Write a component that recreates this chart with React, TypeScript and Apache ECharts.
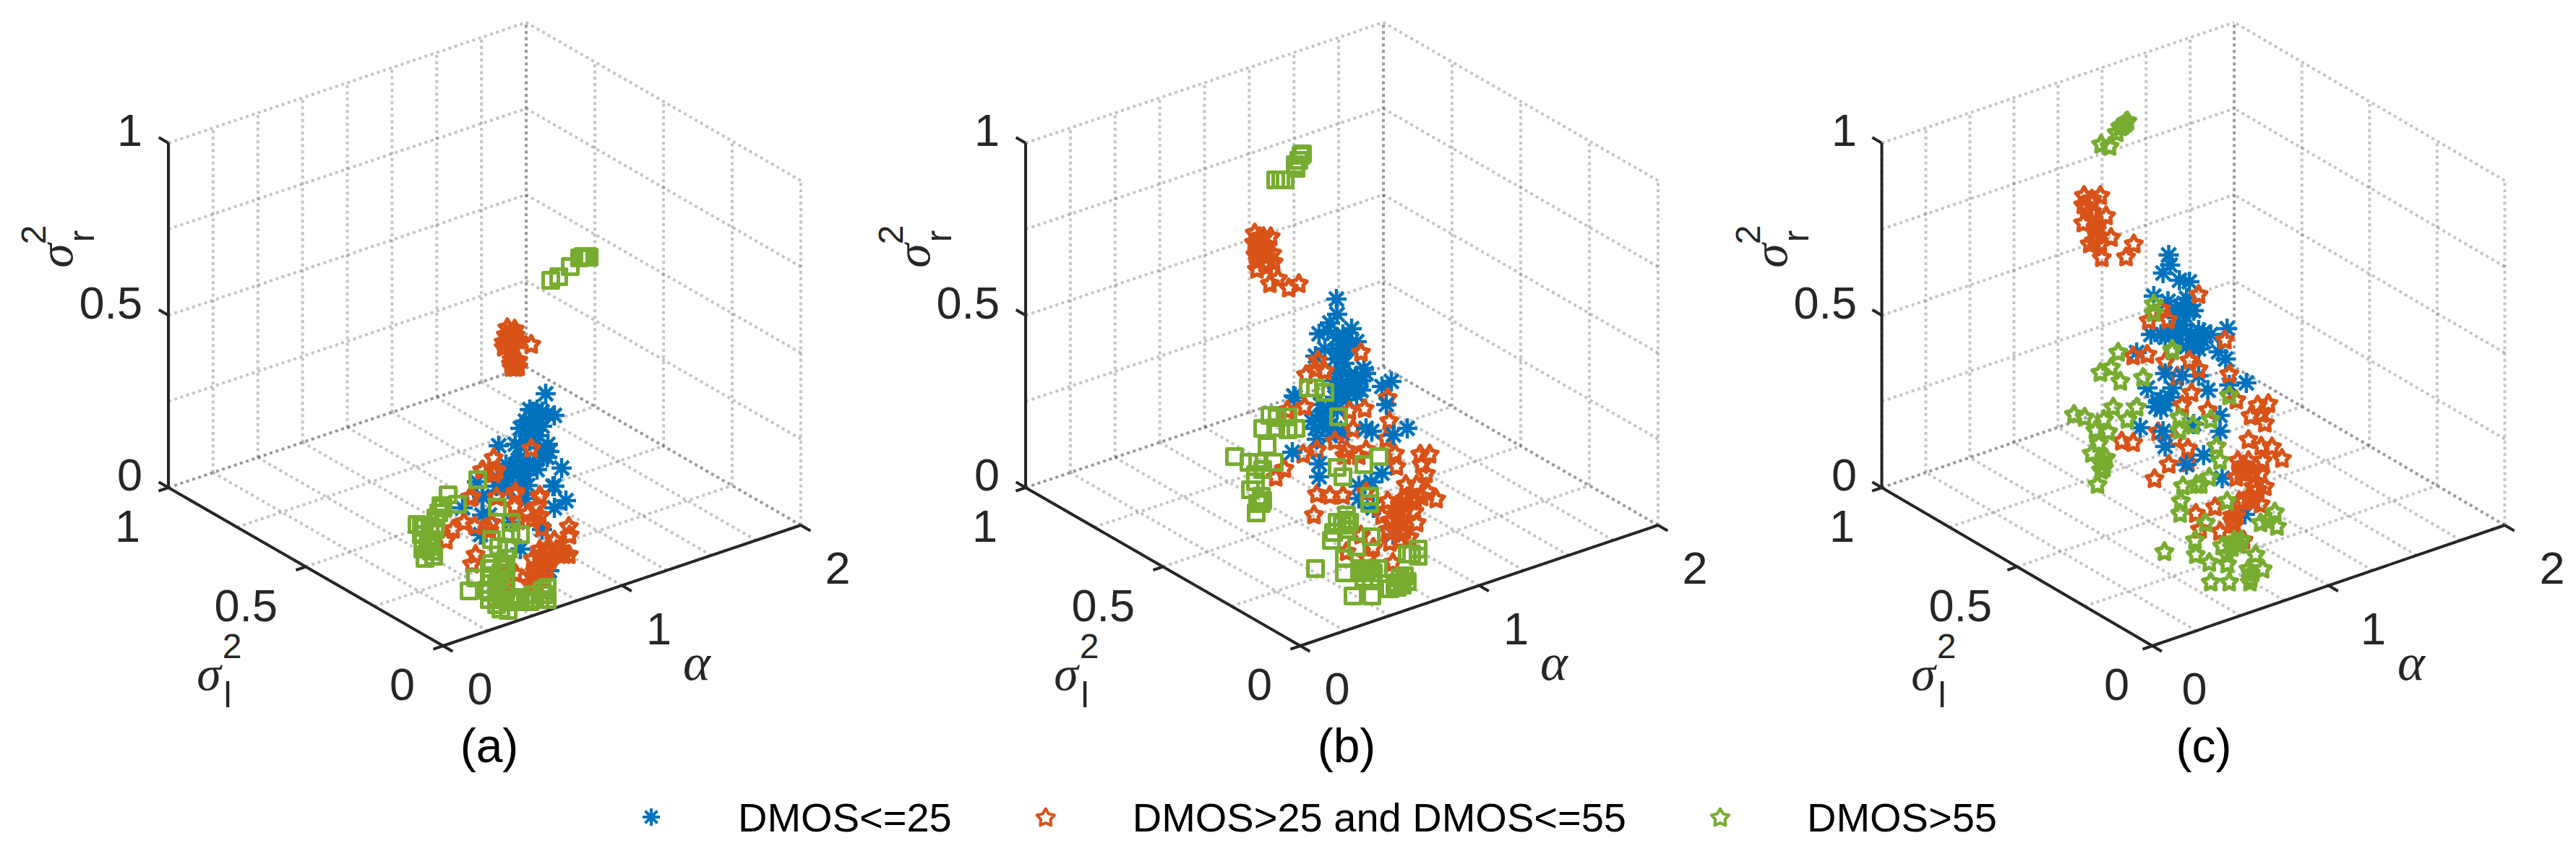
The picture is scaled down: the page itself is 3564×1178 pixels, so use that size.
import React, { useEffect, useRef } from "react";
import * as echarts from "echarts";

// View-plane readings of each point (horizontal, vertical) in the units of the hidden axes.
const aBlue = [[522,349],[534,319],[505,324],[494,311],[514,314],[487,301],[504,301],[517,304],[497,291],[512,291],[525,279],[457,277],[480,279],[527,269],[467,251],[484,247],[500,247],[507,251],[487,261],[477,237],[494,237],[544,246],[532,221],[550,201],[457,231],[467,227],[434,207],[427,227],[435,206],[434,181],[534,221],[534,191],[494,204],[517,161],[432,154],[444,181],[474,171],[487,134],[527,104],[407,191],[497,222],[500,327],[510,327],[494,301],[507,307],[500,311],[517,324],[524,321],[484,257],[474,241],[487,241],[500,254],[480,251],[467,241],[510,244],[517,261],[524,261],[514,274],[500,284],[487,277],[454,221],[470,217],[487,227]];
const aOrange = [[469,441],[479,439],[467,431],[480,431],[464,421],[474,424],[484,424],[464,414],[477,417],[502,418],[475,397],[484,396],[480,386],[475,386],[502,274],[450,261],[435,244],[450,241],[480,214],[514,209],[417,206],[450,239],[434,244],[454,244],[420,207],[480,211],[514,207],[510,194],[479,194],[454,207],[497,184],[514,181],[504,176],[409,172],[394,162],[384,147],[424,167],[447,171],[484,174],[444,161],[517,164],[554,166],[555,154],[534,147],[544,134],[554,127],[527,137],[514,124],[504,121],[530,124],[510,111],[524,107],[504,97],[517,97],[500,87],[425,127],[420,114],[470,104],[480,101],[454,94],[467,87],[510,84],[473,431],[467,421],[479,424],[474,414],[470,426],[480,394],[474,391],[484,387],[524,134],[537,134],[514,134],[517,117],[507,104],[524,117],[547,127],[510,91]];
const aGreen = [[529,506],[540,511],[556,525],[569,537],[574,539],[579,539],[582,538],[428,230],[455,192],[387,209],[377,194],[400,196],[374,184],[344,168],[354,166],[362,166],[369,161],[352,147],[360,146],[352,134],[364,131],[355,121],[367,124],[474,171],[487,154],[474,157],[447,147],[457,137],[470,134],[467,121],[447,114],[462,112],[444,97],[425,94],[457,94],[467,91],[416,76],[444,74],[454,67],[464,64],[460,51],[470,49],[480,64],[494,62],[507,64],[520,71],[514,64],[500,61],[454,57],[440,77],[524,81],[467,77],[454,81],[454,64],[477,61],[487,67],[504,71],[524,64],[517,77],[444,64],[460,101],[444,107],[467,107],[350,164],[350,154],[359,137],[364,147],[370,177],[380,191]];

const bBlue = [[430,480],[431,459],[421,447],[406,432],[418,436],[451,439],[439,431],[458,421],[434,417],[444,411],[401,401],[428,397],[441,391],[468,384],[458,374],[431,377],[506,366],[493,359],[444,361],[464,367],[431,357],[458,357],[371,346],[373,344],[411,319],[408,334],[431,327],[458,347],[396,311],[411,304],[403,286],[461,221],[478,227],[461,204],[481,191],[438,294],[421,291],[508,154],[431,427],[444,424],[448,414],[431,407],[438,381],[448,374],[471,377],[428,367],[454,367],[438,351],[464,354],[447,354],[414,411],[431,361],[418,327],[408,317],[418,311],[401,301],[428,301],[444,341],[428,344]];
const bBlueTop = [[499,334],[528,301],[509,292],[479,297],[471,301],[493,239],[369,268],[406,234],[406,252]];
const bOrange = [[317,572],[329,567],[339,567],[316,559],[328,557],[318,542],[341,544],[331,547],[321,534],[343,532],[320,522],[333,526],[338,502],[349,509],[364,496],[378,502],[464,407],[404,396],[414,381],[388,376],[401,384],[386,332],[362,327],[448,326],[469,329],[453,301],[501,344],[503,312],[499,287],[511,267],[513,249],[358,246],[346,234],[384,266],[403,272],[428,284],[444,272],[441,264],[461,264],[471,272],[403,211],[421,209],[439,209],[471,214],[399,182],[546,266],[559,266],[548,252],[554,239],[526,224],[541,224],[556,214],[568,204],[539,202],[518,197],[501,201],[538,187],[493,181],[521,176],[541,171],[504,174],[501,161],[518,157],[531,151],[504,144],[518,147],[464,154],[444,131],[481,137],[473,122],[508,116],[324,567],[321,554],[331,541],[324,544],[331,531],[514,187],[524,187],[528,207],[514,177],[524,161],[511,161],[534,201],[548,207],[524,204]];
const bGreen = [[353,645],[346,645],[359,645],[373,666],[374,661],[378,672],[381,679],[383,681],[391,357],[401,357],[414,351],[433,317],[338,319],[348,316],[363,317],[328,301],[346,302],[363,299],[374,301],[334,277],[289,262],[309,254],[321,254],[344,254],[318,237],[328,244],[318,227],[311,216],[326,207],[326,197],[319,184],[489,262],[431,247],[468,251],[439,234],[476,207],[476,197],[444,181],[431,171],[448,171],[426,157],[444,161],[423,146],[478,151],[458,137],[401,107],[441,121],[441,101],[468,104],[478,107],[488,107],[468,94],[478,94],[453,69],[479,69],[504,79],[514,81],[524,97],[514,87],[528,89],[534,127],[543,134],[543,124],[528,127],[464,107],[474,107],[471,101],[481,101],[464,101],[511,84],[518,94],[521,84],[444,174],[438,167],[321,197],[328,201]];

const cBlue = [[403,541],[405,527],[395,516],[418,506],[432,504],[382,484],[402,477],[428,481],[438,464],[412,467],[425,457],[422,444],[378,431],[398,427],[445,437],[462,431],[485,439],[435,424],[452,421],[358,406],[473,407],[483,397],[412,424],[438,411],[445,374],[408,357],[458,354],[488,361],[392,341],[392,327],[405,344],[363,302],[475,319],[510,182],[478,232],[425,474],[432,464],[415,454],[405,437],[392,431],[412,431],[428,434],[442,427],[452,434],[428,414],[445,411],[388,337],[385,331],[398,334]];
const cBlueTop = [[398,377],[422,374],[373,357],[512,364],[395,297],[398,276],[438,307],[452,264],[428,251],[475,297]];
const cOrange = [[284,624],[307,624],[295,619],[283,611],[295,602],[315,596],[283,586],[302,582],[302,569],[322,566],[292,557],[307,556],[309,538],[354,557],[343,539],[445,487],[392,467],[375,451],[402,452],[482,424],[373,404],[432,396],[353,402],[398,394],[445,384],[488,377],[415,374],[498,341],[488,347],[435,351],[422,334],[458,327],[528,334],[543,336],[518,319],[533,322],[538,309],[388,297],[337,284],[353,282],[430,274],[403,252],[430,254],[383,232],[470,277],[515,286],[533,277],[548,276],[562,260],[500,257],[515,257],[535,257],[505,241],[532,239],[498,234],[522,221],[538,221],[502,201],[522,201],[532,197],[468,193],[492,181],[441,184],[495,169],[447,162],[475,159],[508,147],[412,287],[295,614],[288,607],[302,577],[298,561],[512,241],[522,241],[508,251],[528,217],[515,207],[508,201],[492,174],[498,181]];
const cGreen = [[343,726],[335,719],[330,711],[308,695],[320,692],[342,724],[382,474],[382,462],[332,407],[408,411],[322,386],[307,379],[335,367],[367,372],[408,409],[325,331],[358,331],[270,321],[285,317],[345,314],[312,314],[300,299],[318,297],[305,281],[295,267],[310,257],[312,247],[303,224],[418,317],[418,299],[462,314],[437,306],[488,347],[470,277],[475,257],[423,222],[448,224],[460,234],[420,201],[419,184],[485,201],[455,171],[440,147],[441,127],[397,131],[460,116],[462,89],[488,89],[485,114],[478,139],[495,144],[505,147],[517,89],[525,127],[535,107],[518,101],[552,186],[532,171],[555,166],[542,174],[338,721],[345,727],[308,254],[308,244],[315,261],[495,147],[492,137],[502,141],[485,127],[442,224],[518,94],[515,107]];

const seriesNames = ["DMOS<=25", "DMOS>25 and DMOS<=55", "DMOS>55"];
const panelTitles = ["(a)", "(b)", "(c)"];
const alphaGrid = [0, 0.25, 0.5, 0.75, 1, 1.25, 1.5, 1.75, 2];
const unitGrid = [0, 0.25, 0.5, 0.75, 1];
const alphaTicks = [0, 1, 2];
const unitTicks = [0, 0.5, 1];

const BLUE = "#0072BD";
const ORANGE = "#D95319";
const GREEN = "#77AC30";
const DARK = "#262626";
const SANS = '"Liberation Sans"';

const ASTERISK = "path://M0 -10V10M-10 0H10M-7.07 -7.07L7.07 7.07M-7.07 7.07L7.07 -7.07";
const STAR = "path://M0 -10L3.23 -4.45L9.51 -3.09L5.23 1.7L5.88 8.09L0 5.5L-5.88 8.09L-5.23 1.7L-9.51 -3.09L-3.23 -4.45Z";
const SQUARE = "path://M-10 -10H10V10H-10Z";

const project = (alpha: number, sl: number, sr: number): [number, number] => [
  380 + alpha * 247.5 - sl * 380,
  alpha * 83.5 + sl * 219 + sr * 477,
];

const PANEL_STEP = 1186;
const PANEL_LEFT = 233;
const FLOOR_Y = 894;

function panelSeries(k: number, blue: number[][], blueTop: number[][], orange: number[][], green: number[][], greenSymbol: string): any[] {
  const out: any[] = [];
  const xAxisIndex = k;
  const yAxisIndex = k;
  const gridLine = (a: number[], b: number[]) =>
    out.push({
      type: "line", xAxisIndex, yAxisIndex, silent: true, clip: false, showSymbol: false, symbol: "none", z: 1,
      data: [project(a[0], a[1], a[2]), project(b[0], b[1], b[2])],
      lineStyle: { color: "rgba(38,38,38,0.27)", width: 4, type: [4, 4.7] },
    });
  const solid = (a: number[], b: number[]) =>
    out.push({
      type: "line", xAxisIndex, yAxisIndex, silent: true, clip: false, showSymbol: false, symbol: "none", z: 2,
      data: [project(a[0], a[1], a[2]), project(b[0], b[1], b[2])],
      lineStyle: { color: DARK, width: 4 },
    });
  alphaGrid.forEach((a) => {
    gridLine([a, 1, 0], [a, 1, 1]);
    gridLine([a, 0, 0], [a, 1, 0]);
  });
  unitGrid.forEach((s) => {
    gridLine([2, s, 0], [2, s, 1]);
    gridLine([0, s, 0], [2, s, 0]);
    gridLine([0, 1, s], [2, 1, s]);
    gridLine([2, 0, s], [2, 1, s]);
  });
  solid([0, 1, 0], [0, 1, 1]);
  solid([0, 0, 0], [0, 1, 0]);
  solid([0, 0, 0], [2, 0, 0]);
  alphaTicks.forEach((a) => solid([a, 0, 0], [a, -0.035, 0]));
  unitTicks.forEach((s) => {
    solid([0, s, 0], [-0.055, s, 0]);
    solid([0, 1, s], [0, 1.035, s]);
  });
  const scatter = (name: string, data: number[][], symbol: string, symbolSize: number, color: string, borderWidth: number, z: number) =>
    out.push({
      type: "scatter", name, data, symbol, symbolSize, xAxisIndex, yAxisIndex, clip: false, z,
      itemStyle: { color: "transparent", borderColor: color, borderWidth, borderJoin: "round", opacity: 1 },
    });
  scatter(seriesNames[0], blue, ASTERISK, 28, BLUE, 4.5, 3);
  scatter(seriesNames[1], orange, STAR, 22, ORANGE, 5.5, 4);
  if (blueTop.length) scatter(seriesNames[0], blueTop, ASTERISK, 28, BLUE, 4.5, 4.5);
  if (greenSymbol === SQUARE) scatter(seriesNames[2], green, SQUARE, 21, GREEN, 5, 5);
  else scatter(seriesNames[2], green, STAR, 22, GREEN, 5.5, 5);
  return out;
}

function panelTexts(k: number): any[] {
  const ox = PANEL_LEFT + PANEL_STEP * k;
  const txt = (x: number, y: number, text: string, font: string, align = "center", fill = DARK, rotation = 0) => ({
    type: "text", x, y, rotation, z: 10, silent: true,
    style: { text, font, textAlign: align, textVerticalAlign: "middle", fill },
  });
  const toPx = (p: [number, number]): [number, number] => [ox + p[0], FLOOR_Y - p[1]];
  const out: any[] = [];
  unitTicks.forEach((s) => {
    const [x, y] = toPx(project(0, 1, s));
    out.push(txt(x - 36, y - 18, String(s), `63px ${SANS}`, "right"));
    const [x2, y2] = toPx(project(0, s, 0));
    out.push(txt(x2 - 39, y2 + 53, String(s), `63px ${SANS}`, "right"));
  });
  alphaTicks.forEach((a) => {
    const [x, y] = toPx(project(a, 0, 0));
    out.push(txt(x + 51, y + 59, String(a), `63px ${SANS}`));
  });
  // axis names
  const rot = Math.PI / 2;
  out.push(txt(ox - 156, 354, "σ", `italic 68px "Liberation Serif"`, "center", DARK, rot));
  out.push(txt(ox - 187, 325, "2", `48px ${SANS}`, "center", DARK, rot));
  out.push(txt(ox - 120, 327, "r", `50px ${SANS}`, "center", DARK, rot));
  out.push(txt(ox + 56, 932, "σ", `italic 68px "Liberation Serif"`));
  out.push(txt(ox + 88, 894, "2", `48px ${SANS}`));
  out.push(txt(ox + 82, 962, "l", `50px ${SANS}`));
  out.push(txt(ox + 731, 917, "α", `italic 72px "Liberation Serif"`));
  out.push(txt(ox + 444, 1032, panelTitles[k], `66px ${SANS}`, "center", "#000000"));
  return out;
}

export default function App() {
  const ref = useRef<HTMLDivElement>(null);
  useEffect(() => {
    const chart = echarts.init(ref.current!, undefined, { renderer: "svg" });
    const panels = [0, 1, 2];
    chart.setOption({
      animation: false,
      backgroundColor: "#ffffff",
      grid: panels.map((k) => ({ left: PANEL_LEFT + PANEL_STEP * k - 100, top: 14, width: 1075, height: 980 })),
      xAxis: panels.map((k) => ({ type: "value", gridIndex: k, min: -100, max: 975, show: false })),
      yAxis: panels.map((k) => ({ type: "value", gridIndex: k, min: -100, max: 880, show: false })),
      legend: {
        left: 882, top: 1098, itemWidth: 24, itemHeight: 24, itemGap: 116, selectedMode: false,
        textStyle: { fontFamily: "Liberation Sans", fontSize: 56, color: "#000000", padding: [0, 0, 0, 103] },
        data: [
          { name: seriesNames[0], icon: ASTERISK, itemStyle: { color: "transparent", borderColor: BLUE, borderWidth: 4 } },
          { name: seriesNames[1], icon: STAR, itemStyle: { color: "transparent", borderColor: ORANGE, borderWidth: 4 } },
          { name: seriesNames[2], icon: STAR, itemStyle: { color: "transparent", borderColor: GREEN, borderWidth: 4 } },
        ],
      },
      series: [
        ...panelSeries(0, aBlue, [], aOrange, aGreen, SQUARE),
        ...panelSeries(1, bBlue, bBlueTop, bOrange, bGreen, SQUARE),
        ...panelSeries(2, cBlue, cBlueTop, cOrange, cGreen, STAR),
      ],
      graphic: { elements: panels.flatMap((k) => panelTexts(k)) },
    });
    return () => chart.dispose();
  }, []);
  return <div ref={ref} style={{ position: "absolute", left: 0, top: 0, width: 3564, height: 1178 }} />;
}
